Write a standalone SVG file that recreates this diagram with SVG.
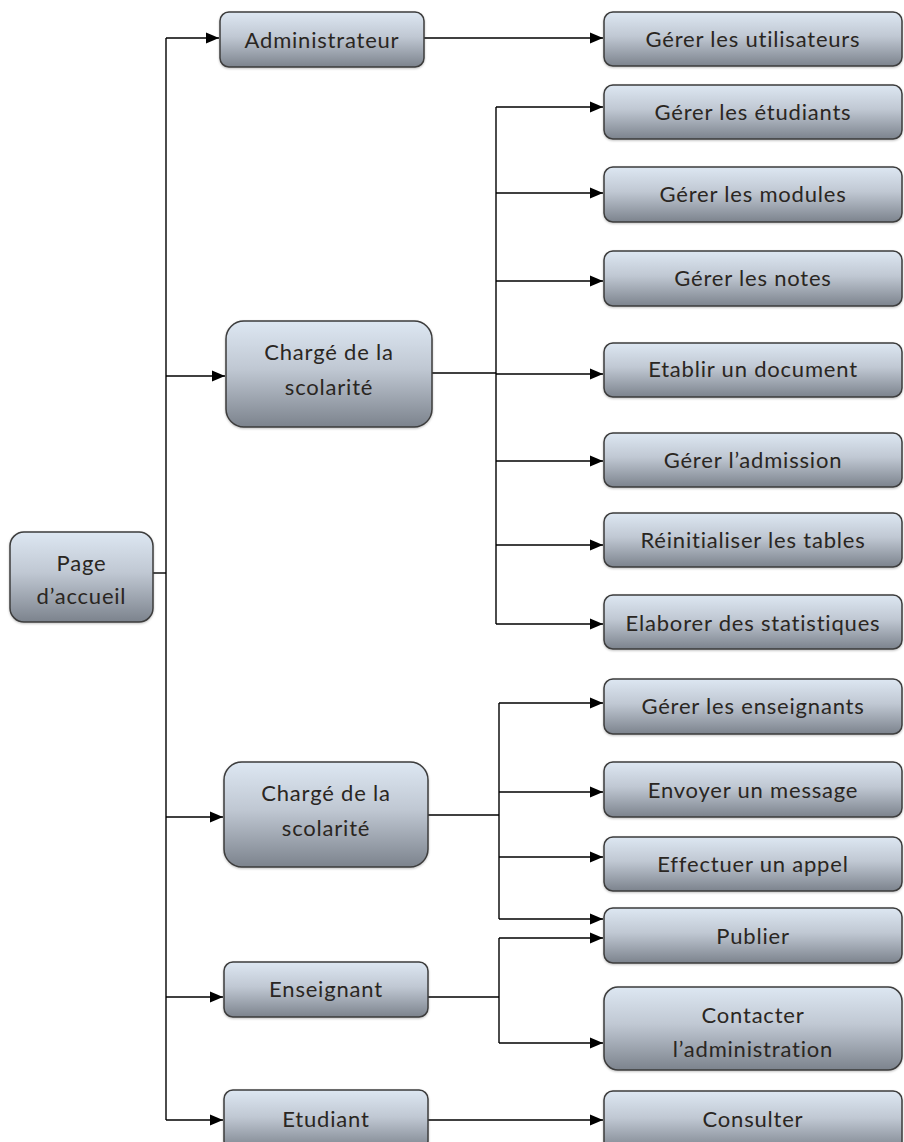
<svg xmlns="http://www.w3.org/2000/svg" width="904" height="1142" viewBox="0 0 904 1142">
<defs>
<linearGradient id="g" x1="0" y1="0" x2="0" y2="1">
<stop offset="0" stop-color="#dde7f2"/>
<stop offset="0.45" stop-color="#c0c8d3"/>
<stop offset="1" stop-color="#7c838d"/>
</linearGradient>
<marker id="ah" markerUnits="userSpaceOnUse" markerWidth="14" markerHeight="14" viewBox="0 0 14 14" refX="13" refY="7" orient="auto">
<path d="M0,1.5 L13,7 L0,12.5 Z" fill="#000"/>
</marker>
<filter id="sh" x="-5%" y="-5%" width="110%" height="115%">
<feDropShadow dx="0" dy="1" stdDeviation="1" flood-color="#000" flood-opacity="0.25"/>
</filter>
</defs>
<style>
.b{fill:url(#g);stroke:#3c3c3c;stroke-width:1.5;filter:url(#sh)}
.t{font-family:Lato,"Open Sans",sans-serif;font-size:22px;letter-spacing:0.8px;fill:#2a2622;text-anchor:middle}
.c{fill:none;stroke:#000;stroke-width:1.4}
.a{marker-end:url(#ah)}
</style>
<g id="connectors">
<line class="c" x1="153" y1="573" x2="166" y2="573"/>
<line class="c" x1="166" y1="38" x2="166" y2="1120"/>
<line class="c a" x1="166" y1="38" x2="219" y2="38"/>
<line class="c a" x1="166" y1="376" x2="225" y2="376"/>
<line class="c a" x1="166" y1="817" x2="223" y2="817"/>
<line class="c a" x1="166" y1="997" x2="223" y2="997"/>
<line class="c a" x1="166" y1="1120" x2="223" y2="1120"/>
<line class="c a" x1="424" y1="38" x2="603" y2="38"/>
<line class="c" x1="432" y1="373" x2="496" y2="373"/>
<line class="c" x1="496" y1="107" x2="496" y2="624"/>
<line class="c a" x1="496" y1="107" x2="603" y2="107"/>
<line class="c a" x1="496" y1="193" x2="603" y2="193"/>
<line class="c a" x1="496" y1="281" x2="603" y2="281"/>
<line class="c a" x1="496" y1="374" x2="603" y2="374"/>
<line class="c a" x1="496" y1="461" x2="603" y2="461"/>
<line class="c a" x1="496" y1="545" x2="603" y2="545"/>
<line class="c a" x1="496" y1="624" x2="603" y2="624"/>
<line class="c" x1="428" y1="815" x2="499" y2="815"/>
<line class="c" x1="499" y1="703" x2="499" y2="919"/>
<line class="c a" x1="499" y1="703" x2="603" y2="703"/>
<line class="c a" x1="499" y1="792" x2="603" y2="792"/>
<line class="c a" x1="499" y1="857" x2="603" y2="857"/>
<line class="c a" x1="499" y1="919" x2="603" y2="919"/>
<line class="c" x1="428" y1="997" x2="499" y2="997"/>
<line class="c" x1="499" y1="938" x2="499" y2="1043"/>
<line class="c a" x1="499" y1="938" x2="603" y2="938"/>
<line class="c a" x1="499" y1="1043" x2="603" y2="1043"/>
<line class="c a" x1="428" y1="1120" x2="603" y2="1120"/>
</g>
<g id="page-accueil"><rect class="b" x="10" y="532" width="143" height="90" rx="14"/><text class="t" x="81.5" y="571">Page</text><text class="t" x="81.5" y="604">d’accueil</text></g>
<g id="administrateur"><rect class="b" x="220" y="12" width="204" height="55" rx="9"/><text class="t" x="322" y="48">Administrateur</text></g>
<g id="charge-1"><rect class="b" x="226" y="321" width="206" height="106" rx="18"/><text class="t" x="329" y="360">Chargé de la</text><text class="t" x="329" y="395">scolarité</text></g>
<g id="charge-2"><rect class="b" x="224" y="762" width="204" height="105" rx="18"/><text class="t" x="326" y="801">Chargé de la</text><text class="t" x="326" y="836">scolarité</text></g>
<g id="enseignant"><rect class="b" x="224" y="962" width="204" height="55" rx="9"/><text class="t" x="326" y="997">Enseignant</text></g>
<g id="etudiant"><rect class="b" x="224" y="1090" width="204" height="60" rx="9"/><text class="t" x="326" y="1127">Etudiant</text></g>
<g id="gerer-utilisateurs"><rect class="b" x="604" y="12" width="298" height="54" rx="9"/><text class="t" x="753" y="47">Gérer les utilisateurs</text></g>
<g id="gerer-etudiants"><rect class="b" x="604" y="85" width="298" height="54" rx="9"/><text class="t" x="753" y="120">Gérer les étudiants</text></g>
<g id="gerer-modules"><rect class="b" x="604" y="167" width="298" height="55" rx="9"/><text class="t" x="753" y="202">Gérer les modules</text></g>
<g id="gerer-notes"><rect class="b" x="604" y="251" width="298" height="55" rx="9"/><text class="t" x="753" y="286">Gérer les notes</text></g>
<g id="etablir-document"><rect class="b" x="604" y="343" width="298" height="54" rx="9"/><text class="t" x="753" y="377">Etablir un document</text></g>
<g id="gerer-admission"><rect class="b" x="604" y="433" width="298" height="54" rx="9"/><text class="t" x="753" y="468">Gérer l’admission</text></g>
<g id="reinitialiser-tables"><rect class="b" x="604" y="513" width="298" height="54" rx="9"/><text class="t" x="753" y="548">Réinitialiser les tables</text></g>
<g id="elaborer-statistiques"><rect class="b" x="604" y="595" width="298" height="54" rx="9"/><text class="t" x="753" y="631">Elaborer des statistiques</text></g>
<g id="gerer-enseignants"><rect class="b" x="604" y="679" width="298" height="55" rx="9"/><text class="t" x="753" y="714">Gérer les enseignants</text></g>
<g id="envoyer-message"><rect class="b" x="604" y="762" width="298" height="55" rx="9"/><text class="t" x="753" y="798">Envoyer un message</text></g>
<g id="effectuer-appel"><rect class="b" x="604" y="837" width="298" height="54" rx="9"/><text class="t" x="753" y="872">Effectuer un appel</text></g>
<g id="publier"><rect class="b" x="604" y="908" width="298" height="55" rx="9"/><text class="t" x="753" y="944">Publier</text></g>
<g id="contacter-administration"><rect class="b" x="604" y="987" width="298" height="83" rx="14"/><text class="t" x="753" y="1023">Contacter</text><text class="t" x="753" y="1057">l’administration</text></g>
<g id="consulter"><rect class="b" x="604" y="1091" width="298" height="60" rx="9"/><text class="t" x="753" y="1127">Consulter</text></g>
</svg>
